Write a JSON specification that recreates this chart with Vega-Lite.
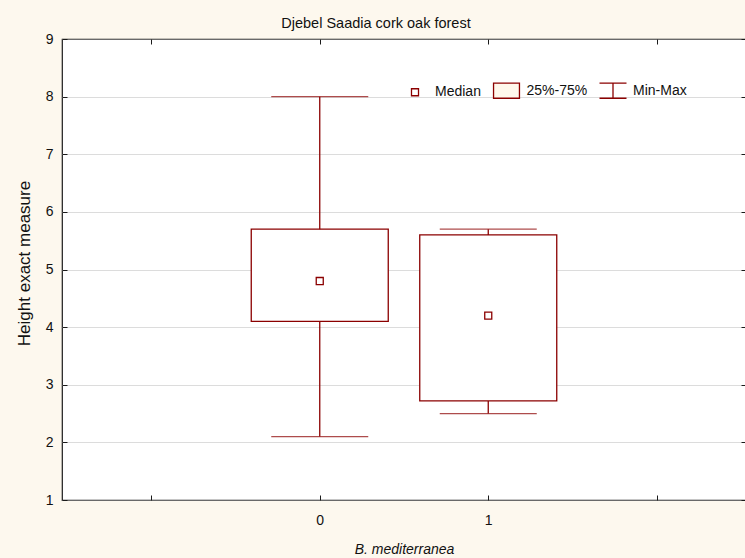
{
  "$schema": "https://vega.github.io/schema/vega-lite/v6.json",
  "autosize": {"type": "none"},
  "padding": {"left": 62, "top": 39, "right": 0, "bottom": 58},
  "width": 684,
  "height": 461,
  "background": "#fdf8ee",
  "title": {"text": "Djebel Saadia cork oak forest", "anchor": "middle", "frame": "group", "dx": -28, "dy": 23, "offset": 13, "baseline": "alphabetic", "fontSize": 14.5, "fontWeight": "normal", "font": "Liberation Sans", "color": "#111111"},
  "config": {
    "view": {"fill": "white", "stroke": "#1a1a1a", "strokeWidth": 1.2},
    "axis": {"labelFont": "Liberation Sans", "titleFont": "Liberation Sans", "labelColor": "#111111", "titleColor": "#111111", "tickColor": "#1a1a1a", "domain": false, "titleFontWeight": "normal"},
    "legend": {"symbolStrokeColor": "#8b0000", "symbolStrokeWidth": 1.3, "symbolOpacity": 1}
  },
  "data": {"values": [
    {"g": 0, "min": 2.1, "q1": 4.1, "median": 4.8, "q3": 5.7, "max": 8.0, "stat": "Median"},
    {"g": 1, "min": 2.5, "q1": 2.72, "median": 4.2, "q3": 5.6, "max": 5.7, "stat": "Median"}
  ]},
  "resolve": {"axis": {"x": "independent", "y": "independent"}},
  "layer": [
    {
      "mark": {"type": "bar", "width": 137, "fill": "white", "stroke": "#8b0000", "strokeWidth": 1.3},
      "encoding": {
        "x": {"field": "g", "type": "quantitative", "scale": {"domain": [-1.5, 2.5], "nice": false, "zero": false},
          "axis": {"orient": "bottom", "values": [-1, 0, 1, 2], "labelExpr": "datum.value == 0 || datum.value == 1 ? datum.label : ''", "grid": false, "tickSize": -5, "labelPadding": 18, "labelFontSize": 14, "title": "B. mediterranea", "titleFontStyle": "italic", "titleFontSize": 14, "titleY": 53, "titleBaseline": "alphabetic"}},
        "y": {"field": "q1", "type": "quantitative", "scale": {"domain": [1, 9], "nice": false, "zero": false},
          "axis": {"orient": "left", "values": [1, 2, 3, 4, 5, 6, 7, 8, 9], "grid": true, "gridColor": "#b8b8b8", "gridDash": [1, 1], "gridWidth": 1, "tickSize": -5, "labelPadding": 14, "labelFontSize": 14, "title": "Height exact measure", "titleFontSize": 17, "titleX": -33, "titleY": 224, "titleBaseline": "alphabetic", "titleAngle": -90}},
        "y2": {"field": "q3"}
      }
    },
    {
      "mark": {"type": "rule", "color": "#8b0000", "strokeWidth": 1.3},
      "encoding": {
        "x": {"field": "g", "type": "quantitative", "axis": {"orient": "top", "values": [-1, 0, 1, 2], "labels": false, "grid": false, "tickSize": -5, "title": null}},
        "y": {"field": "min", "type": "quantitative", "axis": {"orient": "right", "values": [1, 2, 3, 4, 5, 6, 7, 8, 9], "labels": false, "grid": false, "tickSize": -5, "title": null}},
        "y2": {"field": "q1"}
      }
    },
    {
      "mark": {"type": "rule", "color": "#8b0000", "strokeWidth": 1.3},
      "encoding": {
        "x": {"field": "g", "type": "quantitative", "axis": null},
        "y": {"field": "q3", "type": "quantitative", "axis": null},
        "y2": {"field": "max"}
      }
    },
    {
      "mark": {"type": "tick", "orient": "horizontal", "size": 97, "thickness": 1.3, "color": "#8b0000"},
      "encoding": {
        "x": {"field": "g", "type": "quantitative", "axis": null},
        "y": {"field": "min", "type": "quantitative", "axis": null}
      }
    },
    {
      "mark": {"type": "tick", "orient": "horizontal", "size": 97, "thickness": 1.3, "color": "#8b0000"},
      "encoding": {
        "x": {"field": "g", "type": "quantitative", "axis": null},
        "y": {"field": "max", "type": "quantitative", "axis": null}
      }
    },
    {
      "mark": {"type": "point", "size": 729, "filled": true, "opacity": 1, "stroke": "#8b0000", "strokeWidth": 1.3},
      "encoding": {
        "x": {"field": "g", "type": "quantitative", "axis": null},
        "y": {"field": "median", "type": "quantitative", "axis": null},
        "shape": {"field": "stat", "type": "nominal",
          "scale": {"domain": ["Median", "25%-75%", "Min-Max"], "range": ["M-0.26,-0.26H0.26V0.26H-0.26Z", "M-0.96,-0.56H0.96V0.56H-0.96Z", "M-1,-0.56H1M0,-0.56V0.56M-1,0.56H1"]},
          "legend": {"orient": "none", "legendX": 338.5, "legendY": 37, "direction": "horizontal", "title": null, "symbolSize": 729, "symbolStrokeColor": "#8b0000", "symbolStrokeWidth": 1.3, "labelFontSize": 14, "labelFont": "Liberation Sans", "labelColor": "#111111", "labelOffset": 5.5, "columnPadding": 8.5, "padding": 0,
            "encode": {"symbols": {"update": {"stroke": {"value": "#8b0000"}, "strokeWidth": {"value": 1.3}, "opacity": {"value": 1}}}}}},
        "fill": {"field": "stat", "type": "nominal",
          "scale": {"domain": ["Median", "25%-75%", "Min-Max"], "range": ["white", "#fff8ec", "white"]},
          "legend": {"orient": "none", "legendX": 338.5, "legendY": 37, "direction": "horizontal", "title": null, "symbolSize": 729, "symbolStrokeColor": "#8b0000", "symbolStrokeWidth": 1.3, "labelFontSize": 14, "labelFont": "Liberation Sans", "labelColor": "#111111", "labelOffset": 5.5, "columnPadding": 8.5, "padding": 0,
            "encode": {"symbols": {"update": {"stroke": {"value": "#8b0000"}, "strokeWidth": {"value": 1.3}, "opacity": {"value": 1}}}}}}
      }
    }
  ]
}
